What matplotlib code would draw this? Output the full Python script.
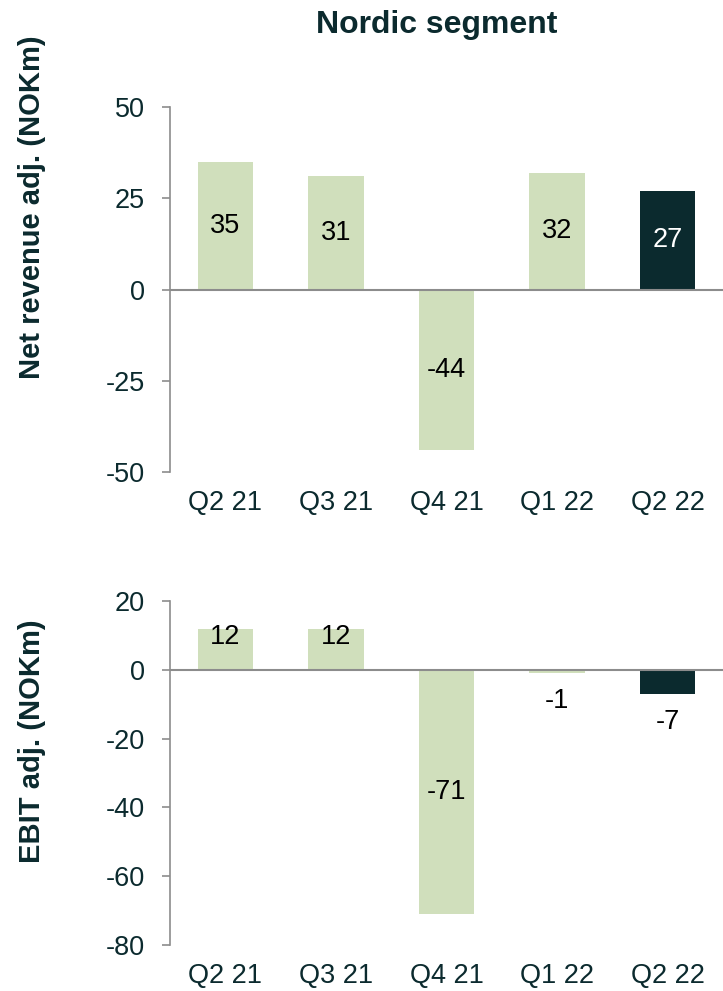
import matplotlib.pyplot as plt

plt.rcParams['font.family'] = ['Liberation Sans', 'DejaVu Sans']
plt.rcParams['axes.unicode_minus'] = False

quarters = ['Q2 21', 'Q3 21', 'Q4 21', 'Q1 22', 'Q2 22']
net_revenue = [35, 31, -44, 32, 27]
ebit = [12, 12, -71, -1, -7]

light = '#d0dfbc'
dark = '#0b2a2e'
grey = '#8c8c8c'
colors = [light, light, light, light, dark]

fig = plt.figure(figsize=(7.23, 9.91), dpi=100)
ax1 = fig.add_axes([0.2351, 0.5237, 0.7649, 0.3683])
ax2 = fig.add_axes([0.2351, 0.0464, 0.7649, 0.3471])


def style(ax, ylim, ticks):
    ax.set_xlim(-0.5, 4.5)
    ax.set_ylim(*ylim)
    ax.set_yticks(ticks)
    ax.set_xticks(range(len(quarters)))
    ax.set_xticklabels(quarters)
    for s in ['top', 'right', 'bottom']:
        ax.spines[s].set_visible(False)
    ax.spines['left'].set_color(grey)
    ax.spines['left'].set_linewidth(1.2)
    ax.axhline(0, color=grey, lw=1.5, zorder=3)
    ax.tick_params(axis='y', length=6, width=1.2, color=grey, pad=12,
                   labelsize=19.5, labelcolor=dark)
    ax.tick_params(axis='x', length=0, pad=13, labelsize=19.5, labelcolor=dark)


# net revenue
ax1.bar(range(len(quarters)), net_revenue, width=0.5, color=colors, zorder=2)
style(ax1, (-50, 50), [-50, -25, 0, 25, 50])
for i, v in enumerate(net_revenue):
    ax1.text(i, v / 2, str(v), ha='center', va='center', fontsize=19.5,
             color='white' if colors[i] == dark else 'black')

# EBIT
ax2.bar(range(len(quarters)), ebit, width=0.5, color=colors, zorder=2)
style(ax2, (-80, 20), [-80, -60, -40, -20, 0, 20])
for i, v in enumerate(ebit):
    if abs(v) >= 20:
        ax2.text(i, v / 2, str(v), ha='center', va='center', fontsize=19.5, color='black')
    elif v > 0:
        ax2.annotate(str(v), (i, v), xytext=(0, -6), textcoords='offset points',
                     ha='center', va='center', fontsize=19.5, color='black')
    else:
        ax2.annotate(str(v), (i, v), xytext=(0, -20), textcoords='offset points',
                     ha='center', va='center', fontsize=19.5, color='black')

fig.text(0.604, 0.975, 'Nordic segment', ha='center', va='center',
         fontsize=23, fontweight='bold', color=dark)
fig.text(0.0443, 0.791, 'Net revenue adj. (NOKm)', rotation=90, ha='center',
         va='center', fontsize=21, fontweight='bold', color=dark)
fig.text(0.0443, 0.252, 'EBIT adj. (NOKm)', rotation=90, ha='center',
         va='center', fontsize=21, fontweight='bold', color=dark)

fig.savefig('out.png', dpi=100)
